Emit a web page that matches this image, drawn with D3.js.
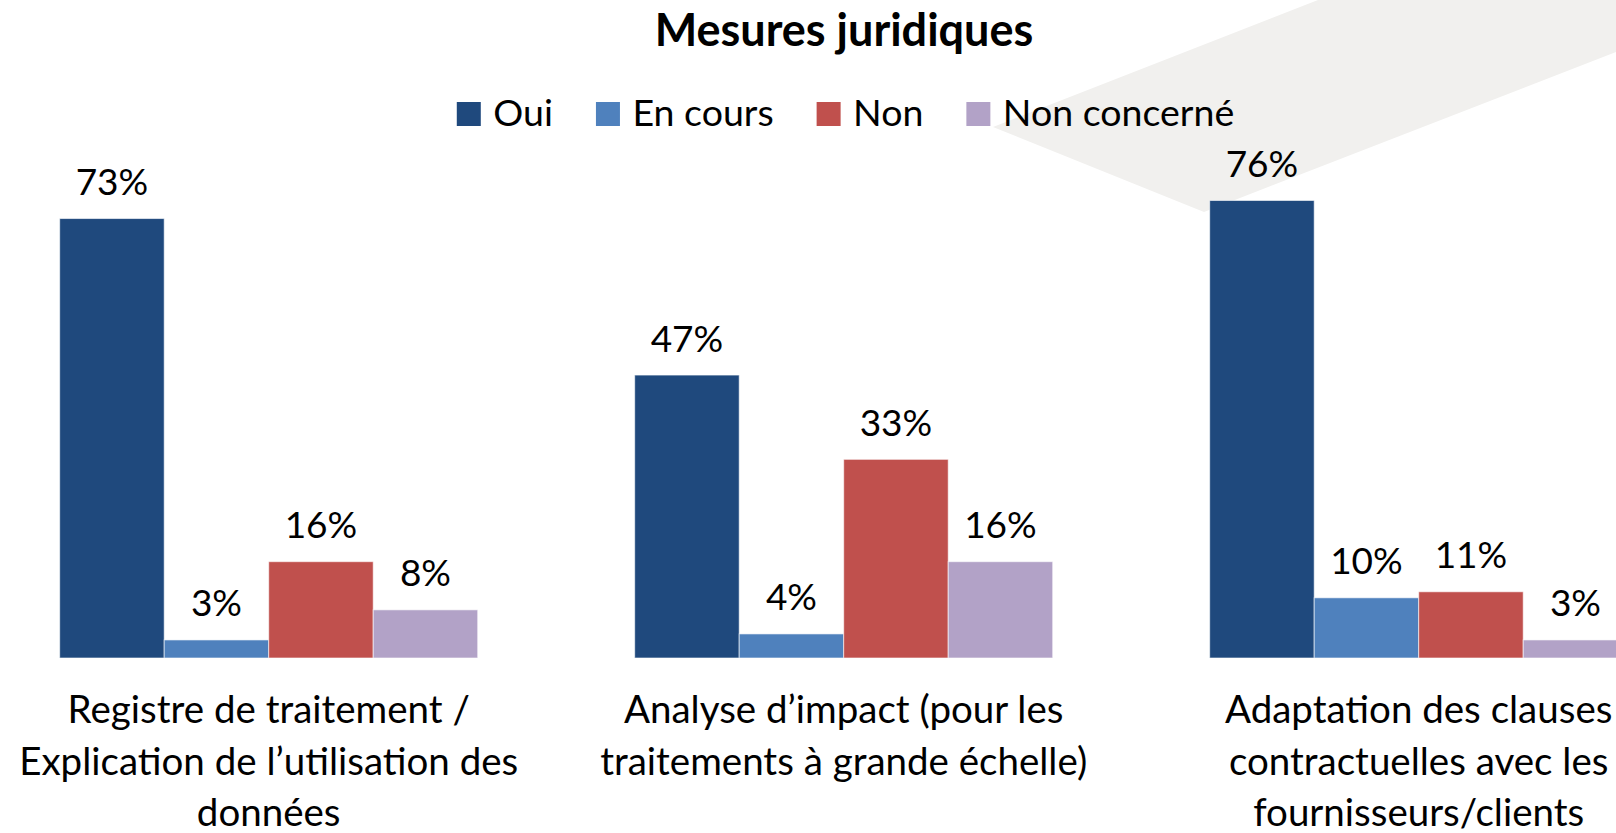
<!DOCTYPE html>
<html>
<head>
<meta charset="utf-8">
<script src="https://cdn.jsdelivr.net/npm/d3@7"></script>
<style>
  html, body { margin: 0; padding: 0; background: #fff; }
  svg { display: block; font-family: Lato, 'Open Sans', sans-serif; }
  .title { font-weight: bold; font-size: 45px; }
  .legend text { font-size: 37.5px; }
  .data-label { font-size: 37px; }
  .cat-label { font-size: 38.5px; }
</style>
</head>
<body>
<svg width="1616" height="833"></svg>
<script>
const categories = [
    'Registre de traitement / Explication de l’utilisation des données',
    'Analyse d’impact (pour les traitements à grande échelle)',
    'Adaptation des clauses contractuelles avec les fournisseurs/clients'
]
const categoryLines = [
    ['Registre de traitement /', 'Explication de l’utilisation des', 'données'],
    ['Analyse d’impact (pour les', 'traitements à grande échelle)'],
    ['Adaptation des clauses', 'contractuelles avec les', 'fournisseurs/clients']
]
const seriesNames = ['Oui', 'En cours', 'Non', 'Non concerné']
const seriesColors = ['#1f497d', '#4f81bd', '#c0504d', '#b2a2c7']
const oui = [73, 47, 76]
const enCours = [3, 4, 10]
const non = [16, 33, 11]
const nonConcerne = [8, 16, 3]

const svg = d3.select('svg')
const width = +svg.attr('width')
const height = +svg.attr('height')

const values = [oui, enCours, non, nonConcerne]
const data = categories.map((c, i) => ({
    category: c,
    lines: categoryLines[i],
    bars: seriesNames.map((s, j) => ({ series: s, value: values[j][i] }))
}))

// decorative grey band behind the chart (top right)
svg.append('polygon')
    .attr('points', '1318,0 993,127 1204,212 1616,52 1616,0')
    .attr('fill', '#f1f0ee')

const baseline = 658

const x0 = d3.scaleBand()
    .domain(categories)
    .range([-18.8, 1706.2])
    .paddingInner(0.273)
    .paddingOuter(0.1365)

const x1 = d3.scaleBand()
    .domain(seriesNames)
    .range([0, x0.bandwidth()])

const y = d3.scaleLinear()
    .domain([0, 80])
    .range([baseline, 176.4])

const color = d3.scaleOrdinal()
    .domain(seriesNames)
    .range(seriesColors)

const groups = svg.selectAll('g.group')
    .data(data)
    .enter()
    .append('g')
    .attr('class', 'group')
    .attr('transform', d => `translate(${x0(d.category)},0)`)

groups.selectAll('rect')
    .data(d => d.bars)
    .enter()
    .append('rect')
    .attr('x', d => x1(d.series))
    .attr('y', d => y(d.value))
    .attr('width', x1.bandwidth())
    .attr('height', d => baseline - y(d.value))
    .attr('fill', d => color(d.series))
    .attr('stroke', '#ffffff')
    .attr('stroke-opacity', 0.6)
    .attr('stroke-width', 1)

groups.selectAll('text.data-label')
    .data(d => d.bars)
    .enter()
    .append('text')
    .classed('data-label', true)
    .attr('x', d => x1(d.series) + x1.bandwidth() / 2)
    .attr('y', d => y(d.value) - 23.5)
    .attr('text-anchor', 'middle')
    .attr('fill', '#000')
    .text(d => d.value + '%')

// category labels, wrapped like the original
const catText = svg.selectAll('text.cat-label')
    .data(data)
    .enter()
    .append('text')
    .classed('cat-label', true)
    .attr('text-anchor', 'middle')
    .attr('fill', '#000')

catText.selectAll('tspan')
    .data(d => d.lines.map(l => ({ line: l, cx: x0(d.category) + x0.bandwidth() / 2 })))
    .enter()
    .append('tspan')
    .attr('x', d => d.cx)
    .attr('y', (d, i) => 723 + i * 51.5)
    .text(d => d.line)

// title
svg.append('text')
    .classed('title', true)
    .attr('x', 844)
    .attr('y', 46)
    .attr('text-anchor', 'middle')
    .text('Mesures juridiques')

// legend
const legend = svg.append('g').classed('legend', true)
const sq = 24
const items = legend.selectAll('g')
    .data(seriesNames)
    .enter()
    .append('g')

items.append('rect')
    .attr('width', sq)
    .attr('height', sq)
    .attr('y', 102)
    .attr('fill', d => color(d))

items.append('text')
    .attr('x', sq + 12.5)
    .attr('y', 125.5)
    .text(d => d)

let offset = 0
const widths = []
items.each(function () {
    const w = d3.select(this).select('text').node().getComputedTextLength()
    widths.push(w)
})
const totalWidth = d3.sum(widths, w => sq + 12.5 + w) + 43 * (widths.length - 1)
const startX = 845.5 - totalWidth / 2
items.attr('transform', (d, i) => {
    const tx = startX + offset
    offset += sq + 12.5 + widths[i] + 43
    return `translate(${tx},0)`
})
</script>
</body>
</html>
